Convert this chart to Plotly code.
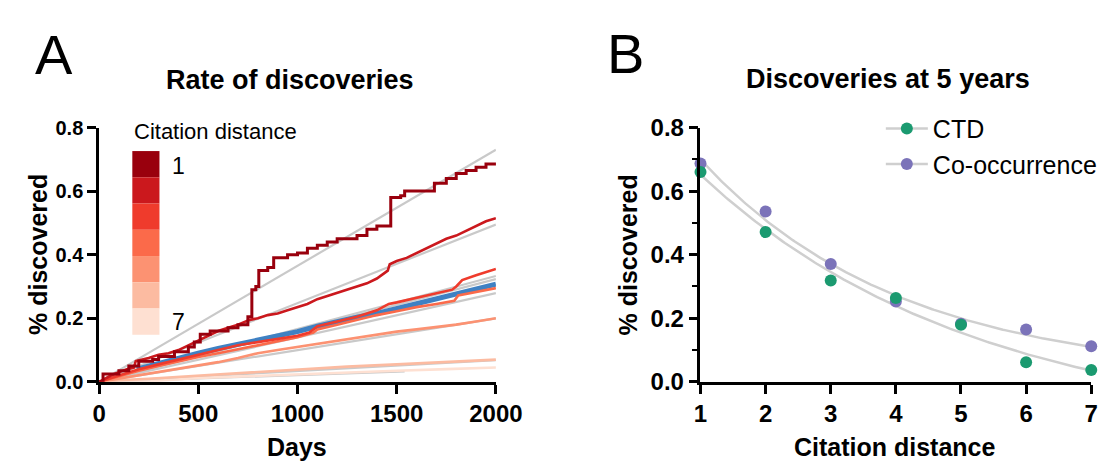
import numpy as np
import plotly.graph_objects as go

# ---------------- Panel A data ----------------
d1_days = [0, 20, 100, 150, 200, 270, 300, 380, 450, 480, 510, 560, 650, 700, 750, 770, 790, 805, 850, 880, 950, 1000, 1050, 1100, 1150, 1200, 1300, 1350, 1400, 1470, 1520, 1540, 1690, 1750, 1800, 1850, 1900, 1950, 2000]
d1_pct = [0, 0.025, 0.035, 0.05, 0.065, 0.07, 0.08, 0.095, 0.11, 0.125, 0.15, 0.16, 0.17, 0.18, 0.205, 0.29, 0.30, 0.35, 0.36, 0.39, 0.40, 0.405, 0.42, 0.43, 0.44, 0.45, 0.46, 0.48, 0.49, 0.58, 0.585, 0.60, 0.625, 0.64, 0.655, 0.665, 0.675, 0.685, 0.69]

d2_days = [0, 30, 60, 100, 140, 175, 185, 250, 300, 350, 400, 450, 500, 550, 600, 650, 700, 760, 800, 850, 900, 950, 1000, 1050, 1100, 1150, 1200, 1250, 1300, 1350, 1400, 1430, 1455, 1465, 1500, 1550, 1600, 1650, 1700, 1750, 1800, 1850, 1900, 1950, 2000]
d2_pct = [0, 0.01, 0.02, 0.03, 0.04, 0.045, 0.065, 0.075, 0.085, 0.09, 0.10, 0.115, 0.13, 0.145, 0.16, 0.17, 0.18, 0.195, 0.20, 0.21, 0.215, 0.225, 0.235, 0.245, 0.26, 0.27, 0.28, 0.29, 0.30, 0.31, 0.325, 0.34, 0.35, 0.37, 0.38, 0.39, 0.405, 0.42, 0.435, 0.45, 0.46, 0.475, 0.49, 0.505, 0.515]

d3_days = [0, 100, 200, 300, 400, 500, 600, 700, 800, 900, 1000, 1060, 1100, 1200, 1300, 1400, 1460, 1500, 1600, 1700, 1780, 1800, 1830, 1900, 2000]
d3_pct = [0, 0.02, 0.04, 0.055, 0.07, 0.085, 0.10, 0.115, 0.125, 0.135, 0.145, 0.155, 0.175, 0.19, 0.205, 0.225, 0.245, 0.25, 0.265, 0.28, 0.29, 0.30, 0.32, 0.335, 0.355]

d4_days = [0, 100, 200, 300, 400, 500, 600, 700, 800, 900, 1000, 1080, 1100, 1200, 1300, 1400, 1500, 1600, 1700, 1790, 1810, 1900, 2000]
d4_pct = [0, 0.018, 0.035, 0.05, 0.065, 0.078, 0.09, 0.102, 0.115, 0.128, 0.14, 0.155, 0.165, 0.18, 0.195, 0.21, 0.222, 0.235, 0.245, 0.255, 0.272, 0.283, 0.295]

d5_days = [0, 100, 200, 300, 400, 500, 600, 700, 800, 900, 1000, 1100, 1200, 1300, 1400, 1500, 1600, 1700, 1800, 1900, 2000]
d5_pct = [0, 0.01, 0.02, 0.03, 0.04, 0.05, 0.062, 0.075, 0.09, 0.10, 0.11, 0.12, 0.13, 0.14, 0.15, 0.158, 0.165, 0.172, 0.18, 0.19, 0.20]

d6_days = [0, 100, 250, 500, 750, 1000, 1250, 1500, 1750, 2000]
d6_pct = [0, 0.005, 0.01, 0.02, 0.03, 0.04, 0.048, 0.055, 0.063, 0.07]

d7_days = [0, 260, 500, 750, 1000, 1250, 1500, 1750, 2000]
d7_pct = [0, 0.002, 0.012, 0.018, 0.025, 0.03, 0.035, 0.04, 0.045]

blue_days = [190, 250, 300, 400, 500, 600, 700, 800, 900, 1000, 1100, 1200, 1300, 1400, 1500, 1600, 1700, 1800, 1900, 2000]
blue_pct = [0.04, 0.05, 0.06, 0.075, 0.09, 0.105, 0.118, 0.13, 0.145, 0.158, 0.175, 0.19, 0.203, 0.215, 0.23, 0.245, 0.262, 0.278, 0.293, 0.307]

# linear fit lines (start at origin): end day and end value
fit_end_days = [2000, 2000, 2000, 2000, 2000, 2000, 2000, 1540]
fit_end_vals = [0.73, 0.495, 0.333, 0.323, 0.279, 0.20, 0.068, 0.033]

distance_labels = ["1", "7"]
reds = ["#99000d", "#cb181d", "#ef3b2c", "#fb6a4a", "#fc9272", "#fcbba1", "#fee0d2"]

# ---------------- Panel B data ----------------
citation_distance = [1, 2, 3, 4, 5, 6, 7]
ctd_pct = [0.660, 0.471, 0.319, 0.264, 0.180, 0.062, 0.037]
cooc_pct = [0.687, 0.536, 0.371, 0.253, 0.183, 0.165, 0.112]

FONT = "Arial, Liberation Sans, sans-serif"
W, H = 1118, 466


def px_x(p):
    return p / W


def px_y(p):
    return (H - p) / H


fig = go.Figure()

# gray fit lines panel A
for de, ve in zip(fit_end_days, fit_end_vals):
    fig.add_trace(go.Scatter(x=[0, de], y=[0, ve], mode="lines",
                             line=dict(color="#c9c9c9", width=2.2),
                             showlegend=False, hoverinfo="skip", xaxis="x", yaxis="y"))

# blue line
fig.add_trace(go.Scatter(x=blue_days, y=blue_pct, mode="lines",
                         line=dict(color="#3f81c3", width=5),
                         showlegend=False, xaxis="x", yaxis="y"))

series = [(d7_days, d7_pct), (d6_days, d6_pct), (d5_days, d5_pct), (d4_days, d4_pct),
          (d3_days, d3_pct), (d2_days, d2_pct), (d1_days, d1_pct)]
cols = reds[::-1]
shapes_kind = ["linear", "linear", "linear", "linear", "linear", "linear", "hv"]
widths = [2.6, 2.6, 2.6, 2.6, 2.6, 2.6, 3.0]
for (dx, dy), c, sh, wd in zip(series, cols, shapes_kind, widths):
    fig.add_trace(go.Scatter(x=dx, y=dy, mode="lines",
                             line=dict(color=c, width=wd, shape=sh),
                             showlegend=False, xaxis="x", yaxis="y"))


# ---------------- Panel B fits ----------------
def exp_fit(x, y):
    x = np.asarray(x, float)
    y = np.asarray(y, float)
    best = None
    for k in np.linspace(0.01, 2.0, 4000):
        A = np.column_stack([np.exp(-k * x), np.ones_like(x)])
        coef, *_ = np.linalg.lstsq(A, y, rcond=None)
        r = np.sum((A @ coef - y) ** 2)
        if best is None or r < best[0]:
            best = (r, k, coef)
    _, k, coef = best
    xs = np.linspace(x.min(), x.max(), 200)
    return xs, coef[0] * np.exp(-k * xs) + coef[1]


for yy in (ctd_pct, cooc_pct):
    xs, ys = exp_fit(citation_distance, yy)
    fig.add_trace(go.Scatter(x=xs, y=ys, mode="lines",
                             line=dict(color="#cfcfcf", width=2.5),
                             showlegend=False, hoverinfo="skip", xaxis="x2", yaxis="y2"))

fig.add_trace(go.Scatter(x=citation_distance, y=cooc_pct, mode="markers",
                         marker=dict(color="#7b73b9", size=12),
                         cliponaxis=False, showlegend=False, xaxis="x2", yaxis="y2"))
fig.add_trace(go.Scatter(x=citation_distance, y=ctd_pct, mode="markers",
                         marker=dict(color="#1b9a70", size=12),
                         cliponaxis=False, showlegend=False, xaxis="x2", yaxis="y2"))

# legend entries
fig.add_trace(go.Scatter(x=[None], y=[None], mode="lines+markers", name="CTD",
                         line=dict(color="#cfcfcf", width=2.5),
                         marker=dict(color="#1b9a70", size=12), xaxis="x2", yaxis="y2"))
fig.add_trace(go.Scatter(x=[None], y=[None], mode="lines+markers", name="Co-occurrence",
                         line=dict(color="#cfcfcf", width=2.5),
                         marker=dict(color="#7b73b9", size=12), xaxis="x2", yaxis="y2"))

axis_common = dict(showline=True, linecolor="black", linewidth=2.5, ticks="outside",
                   ticklen=9, tickwidth=2.5, tickcolor="black", showgrid=False,
                   zeroline=False)

shapes = []
# discrete color bar for citation distance
bar_top, bar_bot = 137, 332
step = (bar_bot - bar_top) / len(reds)
for i, c in enumerate(reds):
    shapes.append(dict(type="rect", xref="paper", yref="paper",
                       x0=px_x(121), x1=px_x(149),
                       y0=px_y(bar_top + (i + 1) * step), y1=px_y(bar_top + i * step),
                       fillcolor=c, line=dict(width=0), layer="below"))

annotations = [
    dict(text="A", x=px_x(40), y=px_y(34), font=dict(size=56, family=FONT)),
    dict(text="B", x=px_x(630), y=px_y(33), font=dict(size=56, family=FONT)),
    dict(text="<b>Rate of discoveries</b>", x=px_x(284), y=px_y(62), font=dict(size=27, family=FONT)),
    dict(text="<b>Discoveries at 5 years</b>", x=px_x(900), y=px_y(60), font=dict(size=27, family=FONT)),
    dict(text="<b>% discovered</b>", x=px_x(23), y=px_y(247), textangle=-90, font=dict(size=25, family=FONT)),
    dict(text="<b>% discovered</b>", x=px_x(632), y=px_y(247), textangle=-90, font=dict(size=25, family=FONT)),
    dict(text="<b>Days</b>", x=px_x(291), y=px_y(451), font=dict(size=25, family=FONT)),
    dict(text="<b>Citation distance</b>", x=px_x(908), y=px_y(451), font=dict(size=25, family=FONT)),
    dict(text="Citation distance", x=px_x(121), y=px_y(116), xanchor="left", font=dict(size=22, family=FONT)),
    dict(text=distance_labels[0], x=px_x(160), y=px_y(153), xanchor="left", font=dict(size=23, family=FONT)),
    dict(text=distance_labels[1], x=px_x(160), y=px_y(318), xanchor="left", font=dict(size=23, family=FONT)),
]
for a in annotations:
    a.update(xref="paper", yref="paper", showarrow=False)
    a.setdefault("xanchor", "center")
    a["yanchor"] = "middle"
    a["font"]["color"] = "black"

tf24 = dict(size=24, family=FONT, color="black", weight="bold")
tf20 = dict(size=20, family=FONT, color="black", weight="bold")

fig.update_layout(
    width=W, height=H, margin=dict(l=0, r=0, t=0, b=0),
    paper_bgcolor="white", plot_bgcolor="white",
    font=dict(family=FONT, color="black"),
    xaxis=dict(domain=[px_x(86.7), px_x(496)], range=[0, 2000], tickvals=[0, 500, 1000, 1500, 2000],
               tickfont=tf24, anchor="y", **axis_common),
    yaxis=dict(domain=[px_y(382), px_y(112)], range=[0, 0.8], tickvals=[0, 0.2, 0.4, 0.6, 0.8],
               tickformat=".1f", tickfont=tf20, anchor="x", **axis_common),
    xaxis2=dict(domain=[px_x(707), px_x(1110)], range=[1, 7], tickvals=citation_distance,
                tickfont=tf24, anchor="y2", **axis_common),
    yaxis2=dict(domain=[px_y(382), px_y(112)], range=[0, 0.8], tickvals=[0, 0.2, 0.4, 0.6, 0.8],
                tickformat=".1f", tickfont=tf24,
                minor=dict(ticks="outside", ticklen=6, tickwidth=2, tickcolor="black", dtick=0.1),
                anchor="x2", **axis_common),
    legend=dict(x=px_x(893), y=px_y(89), xanchor="left", yanchor="top",
                font=dict(size=25, family=FONT, color="black"), bgcolor="rgba(0,0,0,0)",
                itemwidth=42, tracegroupgap=0),
    shapes=shapes, annotations=annotations,
)

fig.write_html("out.html")
